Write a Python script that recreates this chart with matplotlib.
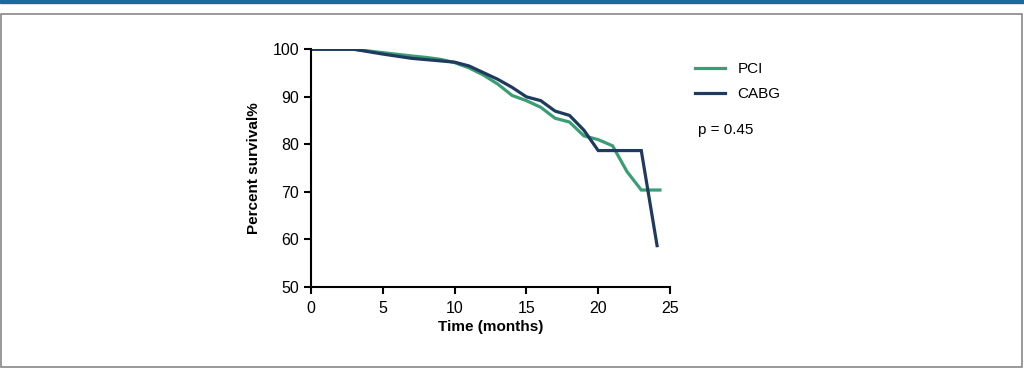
import matplotlib.pyplot as plt
from matplotlib.patches import Rectangle

plt.rcParams['font.family'] = ['Liberation Sans', 'DejaVu Sans']

# survival curves (months, percent)
pci_t = [0, 3, 5, 7, 8, 9, 10, 11, 12, 13, 14, 15, 16, 17, 18, 19, 20, 21, 22, 23, 24.3]
pci_y = [100, 100, 99.3, 98.6, 98.3, 97.9, 97.2, 96.1, 94.6, 92.7, 90.3, 89.2, 87.8, 85.5, 84.7, 81.8, 81.0, 79.7, 74.3, 70.4, 70.4]
cabg_t = [0, 3, 5, 7, 10, 11, 12, 13, 14, 15, 16, 17, 18, 19, 20, 23, 24.1]
cabg_y = [100, 100, 99.0, 98.1, 97.3, 96.5, 95.1, 93.7, 92.0, 90.0, 89.2, 87.0, 86.1, 83.0, 78.7, 78.7, 58.7]

green = '#3a9e74'
navy = '#1f3a5f'

fig = plt.figure(figsize=(10.24, 3.69), dpi=100)

# page decoration: top band and frame
fig.patches.append(Rectangle((0, 1 - 3/369), 1, 3/369, transform=fig.transFigure,
                             color='#1a6a9a', zorder=0))
fig.patches.append(Rectangle((1/1024, 2/369), 1021/1024, (367-14)/369, transform=fig.transFigure,
                             fill=False, edgecolor='#888888', linewidth=1.2, zorder=0))

ax = fig.add_axes([311/1024, 1 - 287/369, 359/1024, (287-49.3)/369])
ax.plot(pci_t, pci_y, color=green, lw=2.3, label='PCI', solid_joinstyle='miter')
ax.plot(cabg_t, cabg_y, color=navy, lw=2.3, label='CABG', solid_joinstyle='miter')

ax.set_xlim(0, 25)
ax.set_ylim(50, 100)
ax.set_xticks([0, 5, 10, 15, 20, 25])
ax.set_yticks([50, 60, 70, 80, 90, 100])
for s in ['top', 'right']:
    ax.spines[s].set_visible(False)
for s in ['left', 'bottom']:
    ax.spines[s].set_linewidth(1.5)
ax.tick_params(labelsize=11.5, width=1.5, length=5)
ax.tick_params(axis='x', pad=5)
ax.set_xlabel('Time (months)', fontsize=11, fontweight='bold', labelpad=3)
ax.set_ylabel('Percent survival%', fontsize=11, fontweight='bold', labelpad=8)

ax.legend(loc='upper left', bbox_to_anchor=(1.03, 1.005), frameon=False, fontsize=11,
          handlelength=2.0, labelspacing=0.75, handletextpad=0.8)
fig.text(698/1024, 1 - 130/369, 'p = 0.45', fontsize=11, va='center')

fig.savefig('out.png', dpi=100)
